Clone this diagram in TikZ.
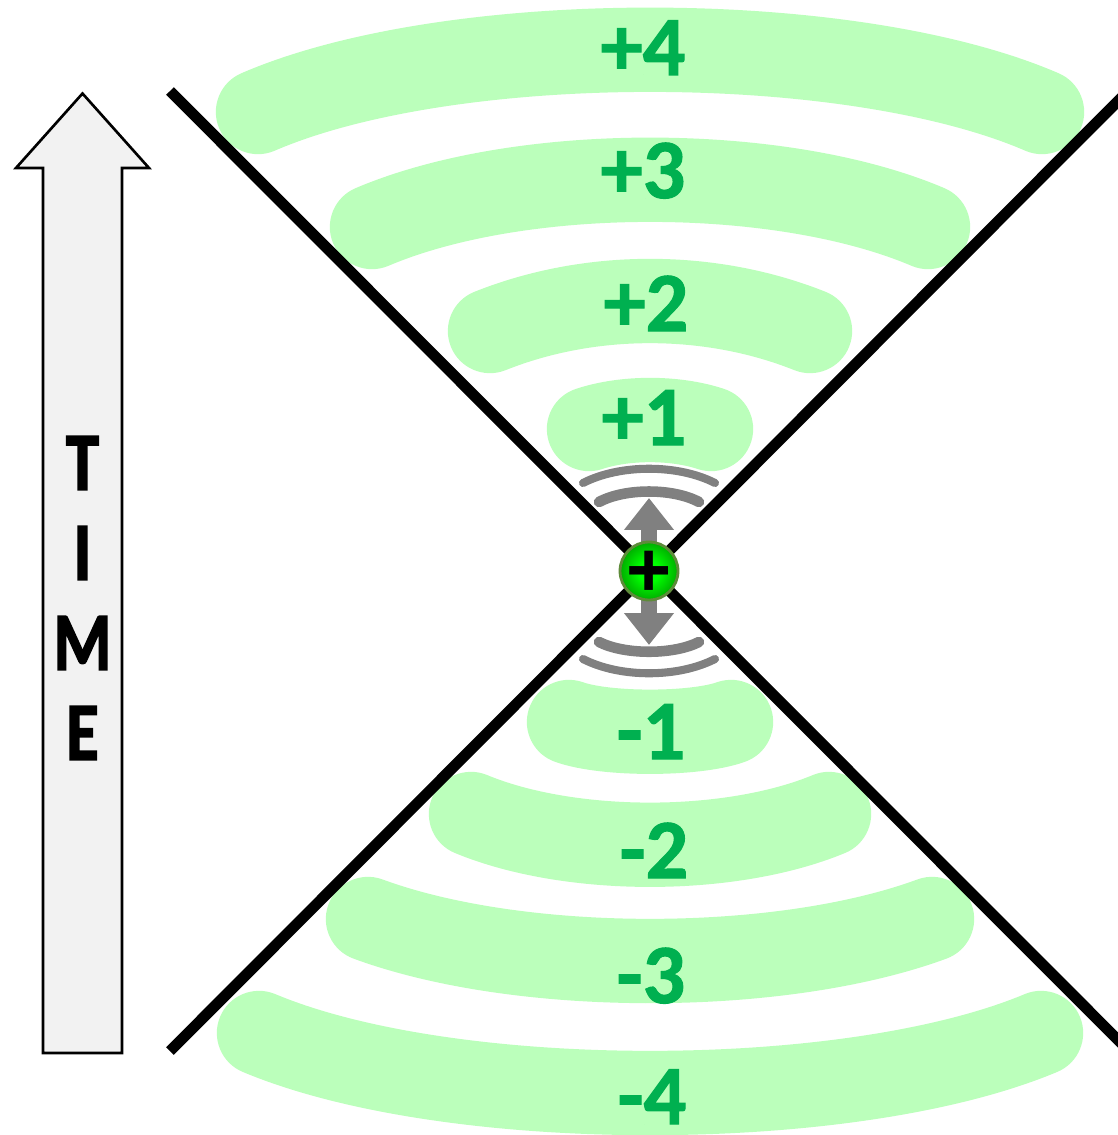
\documentclass[tikz,border=0pt]{standalone}
\usepackage{fontspec}
\setmainfont{Carlito}
\newfontfamily\plusfont{Liberation Sans}
\newfontfamily\bandfont[BoldFeatures={FakeBold=1.2}]{Carlito}
\newfontfamily\timefont[BoldFeatures={FakeBold=2,FakeStretch=0.8}]{Carlito}
\usetikzlibrary{arrows.meta,calc}
\usepackage{xcolor}
\definecolor{bandgreen}{HTML}{BBFFBB}
\definecolor{labelgreen}{HTML}{00B050}
\definecolor{wavegray}{HTML}{808080}
\definecolor{arrowfill}{HTML}{F2F2F2}
\definecolor{chargerim}{HTML}{5E8B3A}
\pgfdeclareradialshading{chargeglow}{\pgfpoint{0bp}{0bp}}{color(0bp)=(green); color(9bp)=(green); color(25bp)=(green!68!black); color(50bp)=(green!68!black)}
\tikzset{
  band/.style={bandgreen, line width=48pt, line cap=round},
  bandlabel/.style={labelgreen, font=\bandfont\fontsize{48}{48}\selectfont\bfseries, anchor=base, inner sep=0pt},
  wave/.style={wavegray, line width=4.6pt, line cap=round},
  innerwave/.style={wave, line width=6pt},
  lightcone/.style={black, line width=6.2pt},
}

\begin{document}
\begin{tikzpicture}[x=0.02cm, y=-0.02cm]
  \clip (0,0) rectangle (1118,1135);
  % time arrow
  \draw[black, line width=1.5pt, fill=arrowfill, line join=miter] (82.5,93.5) -- (149,168) -- (122,168) -- (122,1053)
    -- (43,1053) -- (43,168) -- (16,168) -- cycle;
  \node[font=\timefont\fontsize{47}{51.2}\selectfont\bfseries, align=center, inner sep=0pt] (timelabel) at (82.5,598) {T\\I\\M\\E};
  % future bands
  \draw[band] (258,112) .. controls (450,29) and (850,29) .. (1042,112);
  \draw[band] (372,227) .. controls (520,164) and (780,164) .. (928,227);
  \draw[band] (490,331) .. controls (590,291) and (710,291) .. (810,331);
  \draw[band] (589,429) .. controls (625,417) and (675,417) .. (711,429);
  % past bands
  \draw[band] (569,722) .. controls (605,735) and (695,735) .. (731,722);
  \draw[band] (471,814) .. controls (570,855) and (730,855) .. (829,814);
  \draw[band] (368,919) .. controls (520,975) and (780,975) .. (932,919);
  \draw[band] (259,1033) .. controls (450,1113) and (850,1113) .. (1041,1033);
  % cone lines
  \coordinate (coneNW) at (170,91);
  \coordinate (coneSE) at (1130,1052);
  \coordinate (coneSW) at (170,1051);
  \coordinate (coneNE) at (1130,89);
  \draw[lightcone] (coneNW) -- (coneSE);
  \draw[lightcone] (coneSW) -- (coneNE);
  % labels
  \node[bandlabel] (plusfour) at (643,75) {+4};
  \node[bandlabel] (plusthree) at (643,198) {+3};
  \node[bandlabel] (plustwo) at (646,331) {+2};
  \node[bandlabel] (plusone) at (644,445) {+1};
  \node[bandlabel] (minusone) at (651,759) {-1};
  \node[bandlabel] (minustwo) at (654,878) {-2};
  \node[bandlabel] (minusthree) at (651,1003) {-3};
  \node[bandlabel] (minusfour) at (652,1124) {-4};
  % waves
  \draw[wave] (583,483) .. controls (620,464) and (678,464) .. (715,483);
  \draw[innerwave] (599,502) .. controls (625,488) and (673,488) .. (699,502);
  \draw[innerwave] (599,642) .. controls (625,655) and (673,655) .. (699,642);
  \draw[wave] (583,659) .. controls (620,678) and (678,678) .. (715,659);
  % oscillation arrow
  \coordinate (tipup) at (649,498);
  \coordinate (tipdown) at (649,645);
  \draw[wavegray, line width=9pt, {Triangle[length=18.2pt,width=27.3pt]}-{Triangle[length=18.2pt,width=27.3pt]}] (tipup) -- (tipdown);
  % charge
  \node[circle, draw=chargerim, line width=1.6pt, shading=chargeglow, minimum size=33pt, inner sep=0pt,
    font=\plusfont\fontsize{44}{44}\selectfont\bfseries] (charge) at (649,571) {\raisebox{-0.335em}[0pt][0pt]{\makebox[0pt]{+}}};
\end{tikzpicture}
\end{document}
